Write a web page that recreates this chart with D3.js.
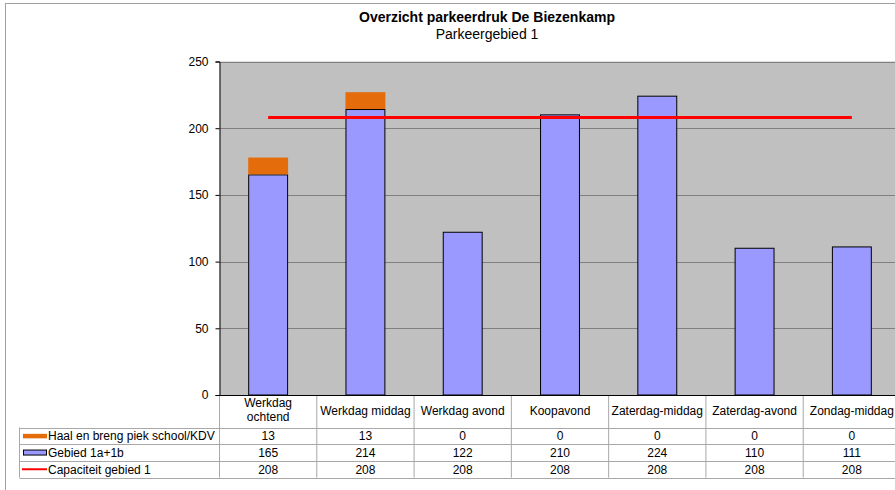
<html>
  <head>
    <title>Overzicht parkeerdruk De Biezenkamp</title>
    <meta charset="utf-8" />
    <script src="https://d3js.org/d3.v7.min.js"></script>
  </head>
  <style>
    body { margin: 0; background: #fff; }
    svg { font-family: "Liberation Sans", Arial, sans-serif; }
  </style>
  <body>
    <div id="viz"><svg></svg></div>
    <script>
      // data
      var categories = ["Werkdag ochtend", "Werkdag middag", "Werkdag avond", "Koopavond",
        "Zaterdag-middag", "Zaterdag-avond", "Zondag-middag"];
      var haalBreng = [13, 13, 0, 0, 0, 0, 0];
      var gebied = [165, 214, 122, 210, 224, 110, 111];
      var capaciteit = [208, 208, 208, 208, 208, 208, 208];
      var seriesNames = ["Haal en breng piek school/KDV", "Gebied 1a+1b", "Capaciteit gebied 1"];
      var yTicks = [0, 50, 100, 150, 200, 250];

      var svg = d3.select("svg").attr("width", 895).attr("height", 490);

      // outer chart frame (runs past the right/bottom edge)
      svg.append("rect")
        .attr("x", 5.5).attr("y", 3.5)
        .attr("width", 980).attr("height", 520)
        .attr("fill", "none").attr("stroke", "#a0a0a0");

      svg.append("text")
        .attr("x", 487).attr("y", 22)
        .attr("text-anchor", "middle")
        .style("font-size", "14px").style("font-weight", "bold")
        .text("Overzicht parkeerdruk De Biezenkamp");
      svg.append("text")
        .attr("x", 487).attr("y", 39)
        .attr("text-anchor", "middle")
        .style("font-size", "14px")
        .text("Parkeergebied 1");

      var x = d3.scaleBand().domain(categories).range([219.5, 900.5]);
      var y = d3.scaleLinear().domain([0, 250]).range([395, 61.5]);
      var bw = x.bandwidth() * 0.4;

      // plot background
      svg.append("rect")
        .attr("x", x.range()[0]).attr("y", y(250))
        .attr("width", x.range()[1] - x.range()[0]).attr("height", y(0) - y(250))
        .attr("fill", "#c0c0c0");

      // gridlines
      svg.selectAll(".grid")
        .data(yTicks.slice(1))
        .enter()
        .append("line")
        .attr("x1", x.range()[0]).attr("x2", x.range()[1])
        .attr("y1", function (d) { return Math.round(y(d)) + 0.5; })
        .attr("y2", function (d) { return Math.round(y(d)) + 0.5; })
        .attr("stroke", "#808080");

      // stacked bars
      svg.selectAll(".bar1")
        .data(categories)
        .enter()
        .append("rect")
        .attr("x", function (d) { return x(d) + (x.bandwidth() - bw) / 2; })
        .attr("y", function (d, i) { return y(gebied[i]); })
        .attr("width", bw)
        .attr("height", function (d, i) { return y(0) - y(gebied[i]); })
        .attr("fill", "#9999ff")
        .attr("stroke", "#000").attr("stroke-width", 1);

      svg.selectAll(".bar2")
        .data(categories)
        .enter()
        .append("rect")
        .attr("x", function (d) { return x(d) + (x.bandwidth() - bw) / 2 - 0.5; })
        .attr("y", function (d, i) { return y(gebied[i] + haalBreng[i]); })
        .attr("width", bw + 1)
        .attr("height", function (d, i) { return y(gebied[i]) - y(gebied[i] + haalBreng[i]) - 0.5; })
        .attr("fill", "#e46c0a");

      // capaciteit line
      var line = d3.line()
        .x(function (d, i) { return x(categories[i]) + x.bandwidth() / 2; })
        .y(function (d) { return y(d); });
      svg.append("path")
        .datum(capaciteit)
        .attr("d", line)
        .attr("fill", "none")
        .attr("stroke", "#ff0000")
        .attr("stroke-width", 3);

      // y axis
      var yAxis = svg.append("g")
        .attr("transform", "translate(219.5,0)")
        .call(d3.axisLeft(y).tickValues(yTicks).tickSize(4).tickPadding(7));
      yAxis.select(".domain").attr("stroke", "#000");
      yAxis.selectAll("text").style("font-size", "12px").style("font-family", "Liberation Sans, Arial, sans-serif").attr("fill", "#000");

      // x axis line
      svg.append("line")
        .attr("x1", 219.5).attr("x2", 900)
        .attr("y1", 395.5).attr("y2", 395.5)
        .attr("stroke", "#000");

      // data table
      var rowTop = 427.5, rowH = 16.7, tableLeft = 19.5;
      var grid = "#a8a8a8";
      var rows = [haalBreng, gebied, capaciteit];

      // column separators
      svg.selectAll(".colsep")
        .data(categories.concat(["end"]))
        .enter()
        .append("line")
        .attr("x1", function (d, i) { return x.range()[0] + i * x.bandwidth(); })
        .attr("x2", function (d, i) { return x.range()[0] + i * x.bandwidth(); })
        .attr("y1", 396).attr("y2", rowTop + 3 * rowH)
        .attr("stroke", grid);
      svg.append("line")
        .attr("x1", tableLeft).attr("x2", tableLeft)
        .attr("y1", rowTop).attr("y2", rowTop + 3 * rowH)
        .attr("stroke", grid);

      // row lines
      svg.selectAll(".rowsep")
        .data([0, 1, 2, 3])
        .enter()
        .append("line")
        .attr("x1", tableLeft).attr("x2", 900)
        .attr("y1", function (d) { return Math.round(rowTop + d * rowH) + 0.5; })
        .attr("y2", function (d) { return Math.round(rowTop + d * rowH) + 0.5; })
        .attr("stroke", grid);

      // header labels
      svg.selectAll(".cat")
        .data(categories)
        .enter()
        .append("text")
        .attr("text-anchor", "middle")
        .style("font-size", "12px")
        .attr("x", function (d) { return x(d) + x.bandwidth() / 2; })
        .attr("y", 415)
        .each(function (d) {
          var t = d3.select(this);
          if (d === "Werkdag ochtend") {
            t.append("tspan").attr("x", x(d) + x.bandwidth() / 2).attr("y", 407).text("Werkdag");
            t.append("tspan").attr("x", x(d) + x.bandwidth() / 2).attr("y", 421).text("ochtend");
          } else {
            t.text(d);
          }
        });

      // legend keys
      var keyRows = svg.selectAll(".key")
        .data(seriesNames)
        .enter()
        .append("g")
        .attr("transform", function (d, i) { return "translate(0," + (rowTop + i * rowH + rowH / 2) + ")"; });
      keyRows.append("text")
        .attr("x", 48).attr("y", 4.5)
        .style("font-size", "12px")
        .text(function (d) { return d; });
      keyRows.filter(function (d, i) { return i === 0; })
        .append("rect").attr("x", 23).attr("y", -2).attr("width", 24).attr("height", 4.5)
        .attr("fill", "#e46c0a");
      keyRows.filter(function (d, i) { return i === 1; })
        .append("rect").attr("x", 23.5).attr("y", -2.5).attr("width", 23).attr("height", 5)
        .attr("fill", "#9999ff").attr("stroke", "#000").attr("stroke-width", 1);
      keyRows.filter(function (d, i) { return i === 2; })
        .append("line").attr("x1", 22).attr("x2", 47).attr("y1", 0).attr("y2", 0)
        .attr("stroke", "#ff0000").attr("stroke-width", 2);

      // values
      rows.forEach(function (vals, r) {
        svg.selectAll(".val" + r)
          .data(vals)
          .enter()
          .append("text")
          .attr("text-anchor", "middle")
          .style("font-size", "12px")
          .attr("x", function (d, i) { return x(categories[i]) + x.bandwidth() / 2; })
          .attr("y", rowTop + r * rowH + rowH / 2 + 4.5)
          .text(function (d) { return d; });
      });
    </script>
  </body>
</html>
